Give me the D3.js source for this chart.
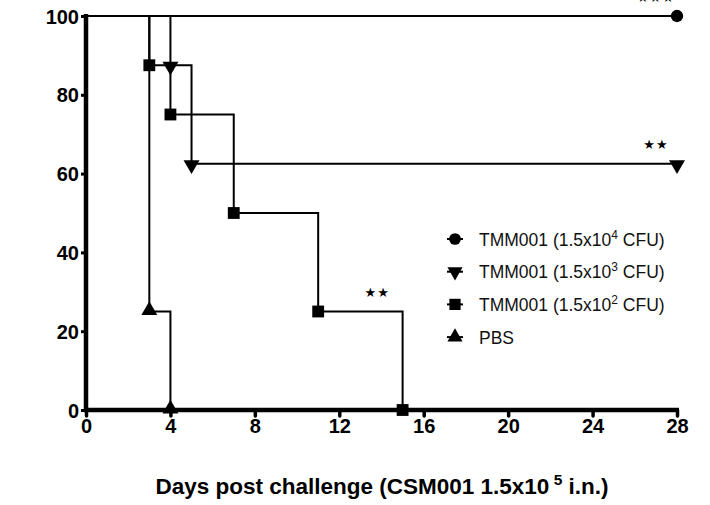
<!DOCTYPE html>
<html>
<head>
<meta charset="utf-8">
<script src="https://cdn.jsdelivr.net/npm/d3@7"></script>
<style>
  body { margin: 0; background: #fff; }
  svg { display: block; font-family: "Liberation Sans", Arial, sans-serif; }
</style>
</head>
<body>
<svg id="chart" width="710" height="505"></svg>
<script>
"use strict"

// survival steps per group (day, percent)
const groupNames = ["TMM001 (1.5x10^4 CFU)", "TMM001 (1.5x10^3 CFU)", "TMM001 (1.5x10^2 CFU)", "PBS"]
const groupDays = [
    [0, 28],
    [0, 4, 5, 28],
    [0, 3, 4, 7, 11, 15],
    [0, 3, 4]
]
const groupSurvival = [
    [100, 100],
    [100, 87.5, 62.5, 62.5],
    [100, 87.5, 75, 50, 25, 0],
    [100, 25, 0]
]
const xTicks = [0, 4, 8, 12, 16, 20, 24, 28]
const yTicks = [0, 20, 40, 60, 80, 100]
// significance marks: [day, percent, label]
const sigMarks = [
    [27, 103.6, "★★★"],
    [27, 66.2, "★★"],
    [13.8, 28.6, "★★"]
]

const svg = d3.select("#chart")
const x = d3.scaleLinear().domain([0, 28]).range([86, 677])
const y = d3.scaleLinear().domain([0, 100]).range([410, 16])

const symbols = [
    {type: d3.symbolCircle, size: 120, rot: 0},
    {type: d3.symbolTriangle, size: 110, rot: 180},
    {type: d3.symbolSquare, size: 140, rot: 0},
    {type: d3.symbolTriangle, size: 110, rot: 0}
]

// axes
const yAxis = d3.axisLeft(y).tickValues(yTicks).tickSize(5).tickPadding(2)
const gy = svg.append("g").attr("transform", "translate(86,0)").call(yAxis)
gy.select(".domain").attr("stroke-width", 4.5).attr("d", "M0," + (y(100) - 2) + "V" + (y(0) + 2))
gy.selectAll(".tick line").attr("stroke-width", 3)
gy.selectAll(".tick text")
    .style("font-size", "20px").style("font-weight", "bold").attr("fill", "#000").attr("dy", "0.35em")

const xAxis = d3.axisBottom(x).tickValues(xTicks).tickSize(6).tickPadding(3)
const gx = svg.append("g").attr("transform", "translate(0,410)").call(xAxis)
gx.select(".domain").attr("stroke-width", 4.5).attr("d", "M" + (x(0) - 2) + ",0H" + (x(28) + 2))
gx.selectAll(".tick line").attr("stroke-width", 3.5).attr("stroke-linecap", "round")
gx.selectAll(".tick text")
    .style("font-size", "20px").style("font-weight", "bold").attr("fill", "#000")

// survival lines
const line = d3.line().x(d => x(d[0])).y(d => y(d[1])).curve(d3.curveStepAfter)
for (let g = 0; g < groupDays.length; ++g) {
    const pts = groupDays[g].map((d, i) => [d, groupSurvival[g][i]])
    svg.append("path")
        .attr("d", line(pts))
        .attr("fill", "none")
        .attr("stroke", "#000")
        .attr("stroke-width", 2)
    svg.selectAll(".m" + g)
        .data(pts.filter(p => p[0] > 0))
        .enter()
        .append("path")
        .attr("class", "m" + g)
        .attr("d", d3.symbol().type(symbols[g].type).size(symbols[g].size))
        .attr("transform", d => "translate(" + x(d[0]) + "," + (y(d[1]) + (symbols[g].type === d3.symbolTriangle ? (symbols[g].rot ? 1 : -1) : 0)) + ") rotate(" + symbols[g].rot + ")")
        .attr("fill", "#000")
}

// significance stars
svg.selectAll(".sig")
    .data(sigMarks)
    .enter()
    .append("text")
    .attr("x", d => x(d[0]))
    .attr("y", d => y(d[1]))
    .attr("text-anchor", "middle")
    .style("font-size", "13px")
    .style("font-family", "DejaVu Sans")
    .style("letter-spacing", "1px")
    .text(d => d[2])

// legend
const legend = svg.append("g").attr("transform", "translate(455,239)")
groupNames.forEach((name, i) => {
    const row = legend.append("g").attr("transform", "translate(0," + (i * 32.7) + ")")
    row.append("path")
        .attr("d", d3.symbol().type(symbols[i].type).size(symbols[i].size * 0.9))
        .attr("transform", "rotate(" + symbols[i].rot + ")")
        .attr("fill", "#000")
    row.append("line").attr("x1", -8).attr("x2", 8).attr("stroke", "#000").attr("stroke-width", 2)
    const t = row.append("text")
        .attr("x", 24)
        .attr("y", 6.5)
        .style("font-size", "17.5px")
        .attr("fill", "#111")
    const parts = name.split("^")
    t.append("tspan").text(parts[0])
    if (parts.length > 1) {
        t.append("tspan").attr("dy", -7).style("font-size", "12px").text(parts[1][0])
        t.append("tspan").attr("dy", 7).text(parts[1].slice(1))
    }
})

// x axis title
const title = svg.append("text")
    .attr("x", 382)
    .attr("y", 494)
    .attr("text-anchor", "middle")
    .style("font-size", "22.5px")
    .style("font-weight", "bold")
    .attr("fill", "#000")
title.append("tspan").text("Days post challenge (CSM001 1.5x10")
title.append("tspan").attr("dy", -9).style("font-size", "15.5px").text(" 5")
title.append("tspan").attr("dy", 9).text(" i.n.)")
</script>
</body>
</html>
